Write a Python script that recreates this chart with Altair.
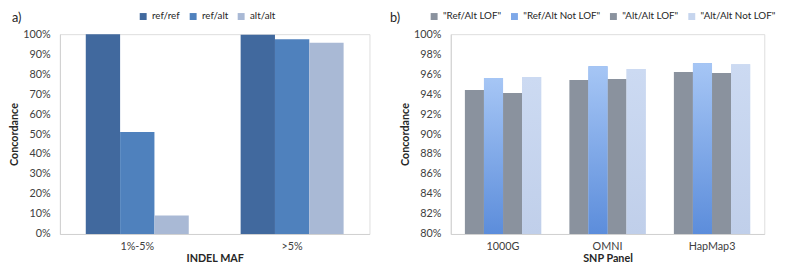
import altair as alt
import pandas as pd

# ---- panel a data ----
a_categories = ["1%-5%", ">5%"]
a_series = ["ref/ref", "ref/alt", "alt/alt"]
a_values = {
    "ref/ref": [1.00, 0.997],
    "ref/alt": [0.51, 0.974],
    "alt/alt": [0.092, 0.957],
}
a_colors = ["#41699e", "#4f81bd", "#a9b9d5"]

# ---- panel b data ----
b_categories = ["1000G", "OMNI", "HapMap3"]
b_series = ['"Ref/Alt LOF"', '"Ref/Alt Not LOF"', '"Alt/Alt LOF"', '"Alt/Alt Not LOF"']
b_values = {
    '"Ref/Alt LOF"': [0.944, 0.954, 0.962],
    '"Ref/Alt Not LOF"': [0.956, 0.968, 0.971],
    '"Alt/Alt LOF"': [0.941, 0.955, 0.961],
    '"Alt/Alt Not LOF"': [0.957, 0.965, 0.970],
}
b_colors = ["#8a929e", "#7ea8e8", "#8a929e", "#c6d5ee"]

FONT = "Lato"

rows_a = [{"cat": c, "series": s, "value": a_values[s][i]}
          for s in a_series for i, c in enumerate(a_categories)]
df_a = pd.DataFrame(rows_a)
rows_b = [{"cat": c, "series": s, "value": b_values[s][i]}
          for s in b_series for i, c in enumerate(b_categories)]
df_b = pd.DataFrame(rows_b)

axis_common = dict(
    labelFont=FONT, labelFontSize=11, labelColor="#404040",
    titleFont=FONT, titleFontSize=11, titleFontWeight="bold", titleColor="#262626",
    domainColor="#d0d0d0", ticks=False, grid=False,
)

def legend(x):
    return alt.Legend(orient="none", direction="horizontal", title=None,
                      legendX=x, legendY=-23, padding=0, symbolType="square",
                      symbolSize=50, labelFont=FONT, labelFontSize=10,
                      labelColor="#262626", columnPadding=8, symbolStrokeWidth=0)

H = 204

# ---------- panel a ----------
xa = alt.X("cat:N", title="INDEL MAF",
           scale=alt.Scale(domain=a_categories, paddingInner=0.335, paddingOuter=0.167),
           axis=alt.Axis(labelAngle=0, labelPadding=7, titlePadding=1, **axis_common))
ya = alt.Y("value:Q", title="Concordance", stack=None,
           scale=alt.Scale(domain=[0, 1]),
           axis=alt.Axis(format=".0%", values=[i / 10 for i in range(11)],
                         labelPadding=10, titlePadding=3, **axis_common))
xoff_a = alt.XOffset("series:N",
                     scale=alt.Scale(domain=a_series, paddingInner=0, paddingOuter=0))
bars_a = alt.Chart(df_a).mark_bar().encode(
    x=xa, y=ya, xOffset=xoff_a,
    color=alt.Color("series:N",
                    scale=alt.Scale(domain=a_series, range=a_colors),
                    legend=legend(80)),
)
lab_a = alt.Chart(pd.DataFrame({"t": ["a)"]})).mark_text(
    font=FONT, fontSize=13, align="left", baseline="middle", color="#262626"
).encode(text="t:N", x=alt.value(-49), y=alt.value(-16))
panel_a = alt.layer(bars_a, lab_a).properties(width=316, height=H)

# ---------- panel b ----------
xb = alt.X("cat:N", title="SNP Panel",
           scale=alt.Scale(domain=b_categories, paddingInner=0.27, paddingOuter=0.135),
           axis=alt.Axis(labelAngle=0, labelPadding=7, titlePadding=1, **axis_common))
yb = alt.Y("value:Q", title="Concordance", stack=None,
           scale=alt.Scale(domain=[0.8, 1.0]),
           axis=alt.Axis(format=".0%", values=[0.8 + i * 0.02 for i in range(11)],
                         labelPadding=10, titlePadding=3, **axis_common))
xoff_b = alt.XOffset("series:N",
                     scale=alt.Scale(domain=b_series, paddingInner=0, paddingOuter=0))
bars_b = alt.Chart(df_b).mark_bar(clip=True).encode(
    x=xb, y=yb, xOffset=xoff_b,
    color=alt.Color("series:N",
                    scale=alt.Scale(domain=b_series, range=b_colors),
                    legend=legend(-22)),
)
grad_blue = alt.Gradient(gradient="linear", x1=0, y1=0, x2=0, y2=1,
                         stops=[alt.GradientStop(offset=0, color="#a6c6f5"),
                                alt.GradientStop(offset=1, color="#5c8ddb")])
grad_light = alt.Gradient(gradient="linear", x1=0, y1=0, x2=0, y2=1,
                          stops=[alt.GradientStop(offset=0, color="#ccdaf2"),
                                 alt.GradientStop(offset=1, color="#c0cfea")])
blue_layer = alt.Chart(df_b).transform_filter(
    alt.datum.series == b_series[1]
).mark_bar(color=grad_blue, clip=True).encode(x=xb, y=yb, xOffset=xoff_b)
light_layer = alt.Chart(df_b).transform_filter(
    alt.datum.series == b_series[3]
).mark_bar(color=grad_light, clip=True).encode(x=xb, y=yb, xOffset=xoff_b)
lab_b = alt.Chart(pd.DataFrame({"t": ["b)"]})).mark_text(
    font=FONT, fontSize=13, align="left", baseline="middle", color="#262626"
).encode(text="t:N", x=alt.value(-62), y=alt.value(-16))
panel_b = alt.layer(bars_b, blue_layer, light_layer, lab_b).properties(width=320, height=H)

chart = alt.hconcat(panel_a, panel_b, spacing=19).resolve_scale(
    color="independent", x="independent", y="independent", xOffset="independent"
).configure_view(stroke=None).configure(padding=0, background="white")

chart.save("out.html", embed_options={"renderer": "svg", "actions": False})
